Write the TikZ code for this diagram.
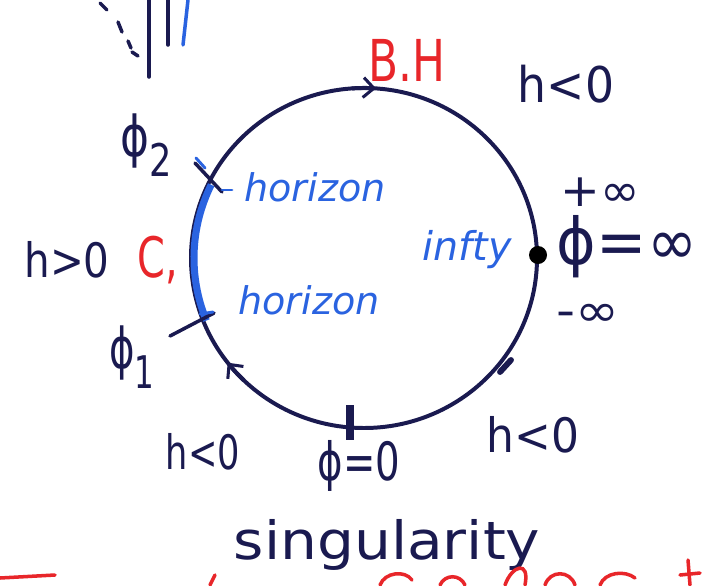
\documentclass[tikz,border=0pt]{standalone}
\usepackage{fontspec}
\setmainfont{DejaVu Sans}
\usetikzlibrary{arrows.meta}
\definecolor{ink}{HTML}{1A1A50}
\definecolor{pen}{HTML}{2A63E0}
\definecolor{redpen}{HTML}{E8262A}
\tikzset{
  lbl/.style={text=ink, inner sep=0pt, font=\fontsize{30}{34}\selectfont},
  bluelbl/.style={text=pen, inner sep=0pt, font=\fontsize{26}{30}\selectfont\itshape},
  redlbl/.style={text=redpen, inner sep=0pt, font=\fontsize{34}{38}\selectfont},
  inkline/.style={draw=ink, line width=3.4pt, line cap=round},
  tickline/.style={draw=ink, line width=3pt, line cap=round},
  redstroke/.style={draw=redpen, line width=3pt, line cap=round},
  barb/.style={-{Straight Barb[length=9pt,width=17pt,line width=2.6pt]}, draw=ink, line width=3.4pt},
}
\newcommand{\hand}[3]{\scalebox{#1}[#2]{#3}}
\newcommand{\phisub}[1]{ϕ\raisebox{-0.35em}{\fontsize{24}{26}\selectfont #1}}
\begin{document}
\begin{tikzpicture}[x=0.03cm,y=-0.03cm]
\useasboundingbox (0,0) rectangle (704,585);
\fill[white] (0,0) rectangle (704,585);
\coordinate (c) at (364,258);
% main circle
\draw[inkline] (c) ellipse [x radius=173, y radius=170];
% direction arrows on the circle (clockwise on screen)
\draw[barb] ([shift={(266:173 and 170)}]c) arc [start angle=266, end angle=274, x radius=173, y radius=170];
\draw[barb] ([shift={(134:173 and 170)}]c) arc [start angle=134, end angle=142, x radius=173, y radius=170];
% blue horizon arc
\draw[pen, line width=6pt] ([shift={(158:170 and 167)}]c) arc [start angle=158, end angle=206, x radius=170, y radius=167];
% ticks phi1, phi2
\coordinate (t2a) at (195,163); \coordinate (t2b) at (222,192);
\draw[tickline] (t2a) -- (t2b);
\draw[pen, line width=2.5pt, line cap=round] (196,158) -- (205,168);
\draw[pen, line width=2.5pt, line cap=round] (222,190) -- (232,190);
\coordinate (t1a) at (170,336); \coordinate (t1b) at (214,313);
\draw[tickline] (t1a) -- (t1b);
\draw[pen, line width=2.5pt, line cap=round] (200,314) -- (213,312);
% bottom bar phi=0
\coordinate (b1) at (350,405); \coordinate (b2) at (350,440);
\draw[ink, line width=6pt] (b1) -- (b2);
% lower-right tick
\coordinate (r1) at (500,372); \coordinate (r2) at (511,360);
\draw[ink, line width=5pt, line cap=round] (r1) -- (r2);
% dot at infinity
\coordinate (dot) at (538,255);
\fill[black] (dot) circle [radius=9];
% top-left strokes
\draw[tickline] (100,3) -- (107,10);
\draw[tickline] (118,22) -- (122,32);
\draw[tickline] (128,41) -- (131,48);
\draw[tickline] (132,52) -- (138,56);
\draw[tickline] (149,0) -- (149,77);
\draw[tickline] (168,0) -- (168,45);
\draw[pen, line width=3pt, line cap=round] (188,0) -- (183,45);
% labels
\node[redlbl] (bh) at (407,60) {\hand{1.1}{1.45}{B.H}};
\node[lbl] (htr) at (566,84) {\hand{1.3}{1.4}{h<0}};
\node[lbl] (phi2) at (146,145) {\hand{1.25}{1.6}{\phisub{2}}};
\node[lbl] (hgt) at (67,260) {\hand{1.15}{1.35}{h>0}};
\node[redlbl] (cc) at (158,260) {\hand{1}{1.4}{C,}};
\node[bluelbl] (hz1) at (315,187) {\hand{1.25}{1.25}{horizon}};
\node[bluelbl] (hz2) at (309,300) {\hand{1.25}{1.25}{horizon}};
\node[bluelbl] (inf) at (467,250) {\hand{1.3}{1.3}{infty}};
\node[lbl] (pinf) at (600,192) {\hand{1.35}{1.3}{+∞}};
\node[lbl, font=\fontsize{38}{42}\selectfont] (phinf) at (627,247) {\hand{1.35}{1.45}{ϕ=∞}};
\node[lbl] (minf) at (588,315) {\hand{1.5}{1.3}{-∞}};
\node[lbl] (phi1) at (132,357) {\hand{1.1}{1.6}{\phisub{1}}};
\node[lbl] (hbl) at (203,452) {\hand{1}{1.35}{h<0}};
\node[lbl] (phi0) at (359,466) {\hand{1.1}{1.5}{ϕ=0}};
\node[lbl] (hbr) at (533,435) {\hand{1.25}{1.35}{h<0}};
\node[lbl, font=\fontsize{36}{40}\selectfont] (sing) at (387,545) {\hand{1.38}{1.25}{singularity}};
% red fragments cut off at the bottom edge
\draw[redstroke] (0,578) -- (55,575);
\draw[redstroke] (210,585) -- (215,575);
\draw[redstroke] (380,585) .. controls (385,572) and (405,570) .. (412,580);
\draw[redstroke] (440,585) .. controls (445,574) and (460,574) .. (465,585);
\draw[redstroke] (505,585) .. controls (512,565) and (530,560) .. (525,585);
\draw[redstroke] (545,585) .. controls (550,570) and (570,570) .. (575,585);
\draw[redstroke] (600,585) .. controls (605,572) and (625,570) .. (635,578);
\draw[redstroke] (688,560) -- (690,585);
\draw[redstroke] (680,575) -- (700,573);
\end{tikzpicture}
\end{document}
